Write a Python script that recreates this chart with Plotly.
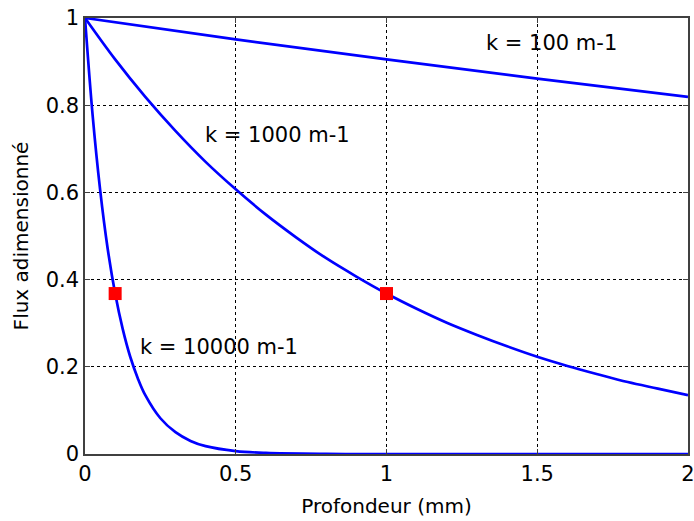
import plotly.graph_objects as go

# Depth (mm) samples and dimensionless flux values
x_k100 = [0, 0.5, 1.0, 1.5, 2.0]
y_k100 = [1.0, 0.951, 0.905, 0.861, 0.819]

x_k1000 = [0, 0.1, 0.2, 0.3, 0.4, 0.5, 0.6, 0.7, 0.8, 0.9, 1.0,
           1.1, 1.2, 1.3, 1.4, 1.5, 1.6, 1.7, 1.8, 1.9, 2.0]
y_k1000 = [1.0, 0.905, 0.819, 0.741, 0.670, 0.607, 0.549, 0.497, 0.449, 0.407, 0.368,
           0.333, 0.301, 0.273, 0.247, 0.223, 0.202, 0.183, 0.165, 0.150, 0.135]

x_k10000 = [0, 0.025, 0.05, 0.075, 0.1, 0.125, 0.15, 0.175, 0.2, 0.25, 0.3,
            0.35, 0.4, 0.5, 0.6, 0.8, 1.0, 1.5, 2.0]
y_k10000 = [1.0, 0.779, 0.607, 0.472, 0.368, 0.287, 0.223, 0.174, 0.135, 0.082, 0.050,
            0.030, 0.018, 0.0067, 0.0025, 0.0003, 0.0, 0.0, 0.0]

marker_x = [0.1, 1.0]
marker_y = [0.368, 0.368]

labels = ["k = 100 m-1", "k = 1000 m-1", "k = 10000 m-1"]
label_x = [1.547, 0.638, 0.446]
label_y = [0.943, 0.732, 0.245]

x_ticks = [0, 0.5, 1, 1.5, 2]
x_ticktext = ["0", "0.5", "1", "1.5", "2"]
y_ticks = [0, 0.2, 0.4, 0.6, 0.8, 1]
y_ticktext = ["0", "0.2", "0.4", "0.6", "0.8", "1"]

FONT = "DejaVu Sans, Arial, sans-serif"
BLUE = "#0000FF"

fig = go.Figure()
for xs, ys in [(x_k100, y_k100), (x_k1000, y_k1000), (x_k10000, y_k10000)]:
    fig.add_trace(go.Scatter(x=xs, y=ys, mode="lines",
                             line=dict(color=BLUE, width=2.7, shape="spline", smoothing=1.0),
                             showlegend=False, hoverinfo="skip"))

fig.add_trace(go.Scatter(x=marker_x, y=marker_y, mode="markers",
                         marker=dict(symbol="square", size=13, color="#FF0000",
                                     line=dict(width=0)),
                         showlegend=False, hoverinfo="skip"))

for t, lx, ly in zip(labels, label_x, label_y):
    fig.add_annotation(x=lx, y=ly, text=t, showarrow=False,
                       font=dict(family=FONT, size=21, color="black"),
                       xanchor="center", yanchor="middle")

axis_common = dict(
    showgrid=True, gridcolor="black", gridwidth=1, griddash="dot",
    zeroline=False, showline=True, linecolor="#404040", linewidth=1.5,
    mirror="ticks", ticks="inside", ticklen=5, tickcolor="#404040",
    tickfont=dict(family=FONT, size=21, color="black"),
    automargin=False, ticklabeloverflow="allow",
)

fig.update_xaxes(range=[0, 2], tickvals=x_ticks, ticktext=x_ticktext,
                 title=dict(text="Profondeur (mm)", font=dict(family=FONT, size=20, color="black"),
                            standoff=14),
                 **axis_common)
fig.update_yaxes(range=[0, 1], tickvals=y_ticks, ticktext=y_ticktext,
                 title=dict(text="Flux adimensionné", font=dict(family=FONT, size=20, color="black"),
                            standoff=12),
                 **axis_common)

fig.update_layout(width=694, height=521,
                  margin=dict(l=85, r=6, t=18, b=67),
                  plot_bgcolor="white", paper_bgcolor="white",
                  hovermode=False)

fig.write_html("out.html", config={"displayModeBar": False},
               post_script="document.body.style.margin='0';document.body.style.overflow='hidden';")
